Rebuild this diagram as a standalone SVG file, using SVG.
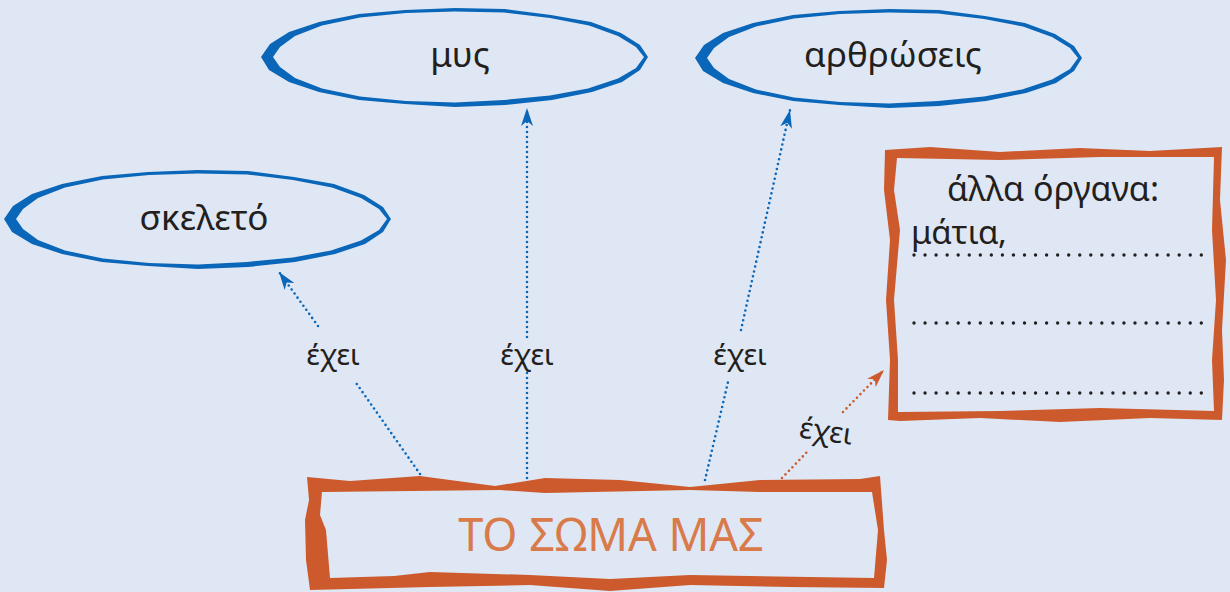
<svg xmlns="http://www.w3.org/2000/svg" xmlns:xlink="http://www.w3.org/1999/xlink" width="1230" height="592" viewBox="0 0 1230 592">
<style>
  .t { font-family: "Noto Sans", "Open Sans", sans-serif; fill: #231f20; }
  .lbl { font-size: 29px; text-anchor: middle; }
  .ring { fill: #0a66b8; fill-rule: evenodd; }
  .frame { fill: #cd5a2c; fill-rule: evenodd; }
  .cb { fill: none; stroke: #0a66b8; stroke-width: 2.6; stroke-linecap: round; stroke-dasharray: 0 5; }
  .co { fill: none; stroke: #cd5a2c; stroke-width: 2.6; stroke-linecap: round; stroke-dasharray: 0 5; }
  .dots { fill: none; stroke: #231f20; stroke-width: 3.4; stroke-linecap: round; stroke-dasharray: 0 11.05; }
</style>
<defs>
  <path id="ellshape" d="M193,0 L185,13 L167,25 L137,35 L97,43 L50,48 L0,50 L-50,47 L-96,43 L-136,35 L-166,25 L-186,13 L-194,0 L-185,-13 L-166,-25 L-136,-35 L-96,-43 L-50,-47 L0,-49 L50,-48 L96,-42 L136,-35 L166,-24 L185,-12 Z M189,0 L181,11 L163,21.5 L133,31.5 L95,38.5 L49,43 L0,45.5 L-49,44 L-95,39.5 L-133,31.5 L-160,21 L-175,10 L-182,0 L-175,-10 L-160,-21 L-133,-31.5 L-95,-39.5 L-49,-44 L0,-45.5 L49,-44.5 L95,-39 L134,-31.5 L163,-21 L181,-10 Z"/>
  <marker id="ab" viewBox="0 0 18 12" refX="18" refY="6" markerWidth="18" markerHeight="12" markerUnits="userSpaceOnUse" orient="auto">
    <path d="M0,0 L18,6 L0,12 L5,6 Z" fill="#0a66b8"/>
  </marker>
  <marker id="ao" viewBox="0 0 18 12" refX="18" refY="6" markerWidth="18" markerHeight="12" markerUnits="userSpaceOnUse" orient="auto">
    <path d="M0,0 L18,6 L0,12 L5,6 Z" fill="#cd5a2c"/>
  </marker>
</defs>
<rect x="0" y="0" width="1230" height="592" fill="#dfe7f4"/>

<g id="connectors">
  <path class="cb" d="M420,474 L354,380"/>
  <path class="cb" d="M318,326 L279,272" marker-end="url(#ab)"/>
  <path class="cb" d="M527,478 L527,372"/>
  <path class="cb" d="M527,337 L527,108" marker-end="url(#ab)"/>
  <path class="cb" d="M705,480 L728,382"/>
  <path class="cb" d="M741,330 L790,110" marker-end="url(#ab)"/>
  <path class="co" d="M782,478 L808,451"/>
  <path class="co" d="M843,412 L884,370" marker-end="url(#ao)"/>
  <text class="t lbl" x="333" y="365">έχει</text>
  <text class="t lbl" x="527" y="365">έχει</text>
  <text class="t lbl" x="740" y="365">έχει</text>
  <text class="t lbl" x="826" y="441" transform="rotate(8 826 432)">έχει</text>
</g>

<g id="node-skeleto">
  <use xlink:href="#ellshape" href="#ellshape" class="ring" transform="translate(198,219)"/>
  <text class="t" x="204" y="230" font-size="35" text-anchor="middle">σκελετό</text>
</g>

<g id="node-mys">
  <use xlink:href="#ellshape" href="#ellshape" class="ring" transform="translate(455,57)"/>
  <text class="t" x="460" y="67" font-size="35" text-anchor="middle">μυς</text>
</g>

<g id="node-arthroseis">
  <use xlink:href="#ellshape" href="#ellshape" class="ring" transform="translate(889,58)"/>
  <text class="t" x="893" y="67" font-size="35" text-anchor="middle">αρθρώσεις</text>
</g>

<g id="node-alla-organa">
  <path class="frame" d="M885,150 L930,147 L1000,152 L1080,148 L1150,151 L1222,147 L1220,200 L1226,260 L1222,330 L1224,380 L1222,420 L1150,418 L1060,422 L980,418 L900,421 L888,420 L890,360 L886,300 L890,240 L884,190 Z M897,158 L1000,160 L1100,157 L1214,157 L1212,230 L1216,300 L1212,360 L1214,411 L1100,408 L1000,411 L898,412 L898,360 L894,300 L900,230 L894,190 Z"/>
  <text class="t" x="1053" y="201" font-size="34" text-anchor="middle">άλλα όργανα:</text>
  <text class="t" x="911" y="244" font-size="33">μάτια,</text>
  <path class="dots" d="M914,255 L1202,255 M914,323 L1202,323 M914,393 L1202,393"/>
</g>

<g id="node-soma">
  <path class="frame" d="M307,477 L350,481 L420,476 L495,486 L545,478 L620,480 L690,487 L760,480 L860,479 L880,476 L884,530 L887,560 L884,588 L790,587 L690,585 L610,591 L530,585 L430,587 L310,590 L306,560 L305,520 L309,500 Z M322,492 L500,490 L545,493 L690,490 L760,492 L872,492 L878,530 L874,578 L690,575 L610,579 L530,575 L430,572 L394,576 L330,578 L326,530 L320,515 Z"/>
  <text x="611" y="551" font-family="Noto Sans, Open Sans, sans-serif" font-size="45" fill="#d97a4a" text-anchor="middle">ΤΟ ΣΩΜΑ ΜΑΣ</text>
</g>
</svg>
